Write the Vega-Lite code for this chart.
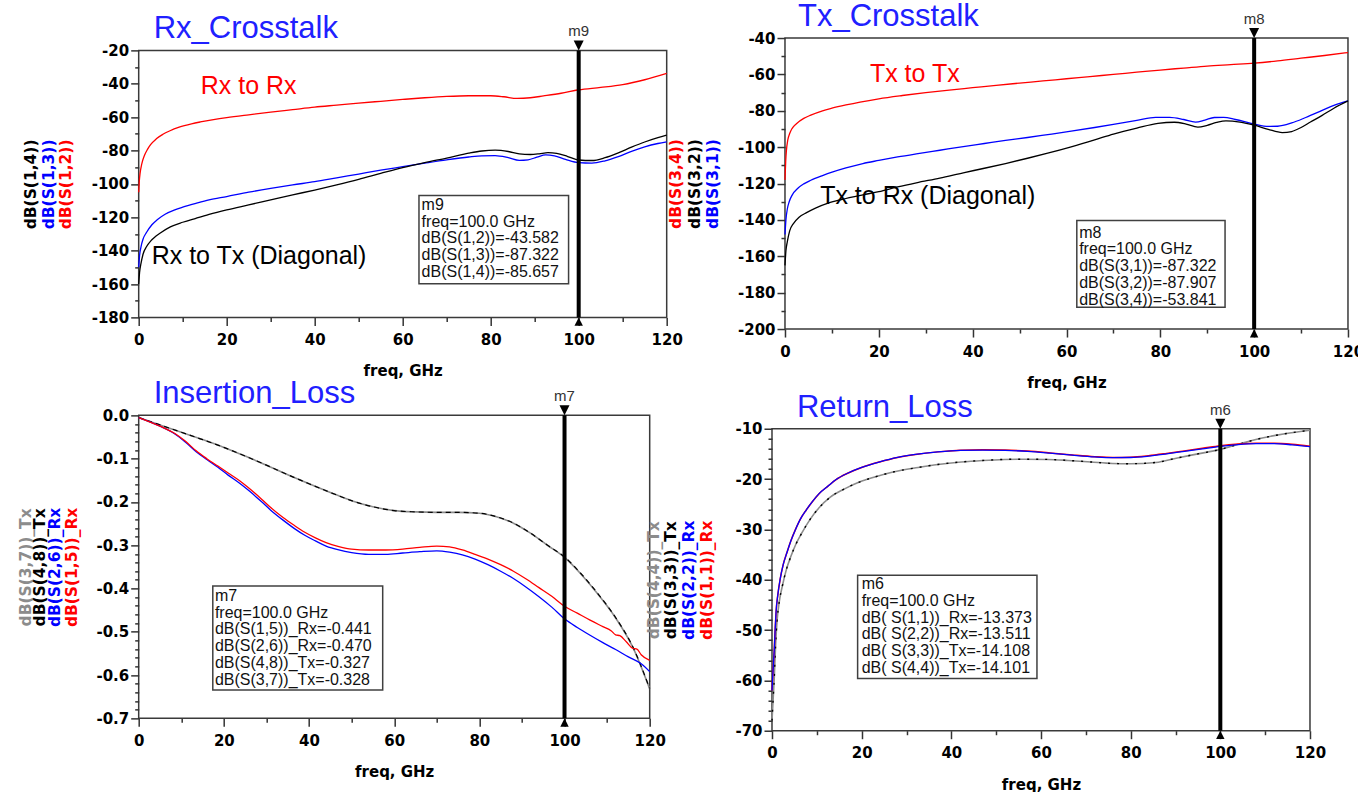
{
"$schema": "https://vega.github.io/schema/vega-lite/v6.json",
"padding": {"left": 16.7, "top": 0, "right": 0, "bottom": 0},
"config": {
 "view": {"stroke": "#3a3a3a", "strokeWidth": 1.5},
 "axis": {"grid": false, "domain": false, "labelFlush": false, "labelOverlap": false, "tickColor": "#333", "tickWidth": 1.5, "labelFont": "DejaVu Sans", "labelFontSize": 15, "labelFontWeight": "bold", "labelColor": "#000", "titleFont": "DejaVu Sans", "titleFontSize": 15.5, "titleFontWeight": "bold", "titleColor": "#000"},
 "axisY": {"titleAngle": 270, "titleAlign": "center", "titleBaseline": "middle", "labelPadding": 2, "tickSize": 8},
 "axisX": {"labelPadding": 7, "tickSize": 8, "titleBaseline": "middle"},
 "title": {"font": "Liberation Sans", "fontSize": 31, "fontWeight": "normal", "color": "#2020ff", "anchor": "start", "frame": "group", "baseline": "alphabetic", "offset": -21},
 "line": {"strokeWidth": 1.3, "interpolate": "monotone"},
 "text": {"font": "Liberation Sans"}
},
"datasets": {
 "p1": [
  {"s":"S12","f":0,"v":-105},{"s":"S12","f":0.15,"v":-98},{"s":"S12","f":0.3,"v":-94},{"s":"S12","f":0.7,"v":-88},{"s":"S12","f":1.3,"v":-83},{"s":"S12","f":2,"v":-79.3},{"s":"S12","f":2.7,"v":-76.5},{"s":"S12","f":4,"v":-73},{"s":"S12","f":5.5,"v":-70.3},{"s":"S12","f":7,"v":-68.3},{"s":"S12","f":9.2,"v":-66},{"s":"S12","f":12,"v":-64},{"s":"S12","f":14,"v":-62.9},{"s":"S12","f":17,"v":-61.5},{"s":"S12","f":20,"v":-60.3},{"s":"S12","f":25,"v":-58.6},{"s":"S12","f":30,"v":-57},{"s":"S12","f":35,"v":-55.5},{"s":"S12","f":40,"v":-54},{"s":"S12","f":45,"v":-52.8},{"s":"S12","f":50,"v":-51.6},{"s":"S12","f":55,"v":-50.5},{"s":"S12","f":60,"v":-49.4},{"s":"S12","f":65,"v":-48.4},{"s":"S12","f":70,"v":-47.6},{"s":"S12","f":75,"v":-47.2},{"s":"S12","f":80,"v":-47.2},{"s":"S12","f":83,"v":-47.8},{"s":"S12","f":86,"v":-48.8},{"s":"S12","f":89,"v":-48.4},{"s":"S12","f":92,"v":-47.3},{"s":"S12","f":96,"v":-45.7},{"s":"S12","f":100,"v":-43.6},{"s":"S12","f":105,"v":-42.2},{"s":"S12","f":110,"v":-40.5},{"s":"S12","f":115,"v":-37.6},{"s":"S12","f":120,"v":-33.8},
  {"s":"S13","f":0,"v":-150},{"s":"S13","f":0.2,"v":-143},{"s":"S13","f":0.5,"v":-138},{"s":"S13","f":1,"v":-133},{"s":"S13","f":1.8,"v":-129},{"s":"S13","f":3,"v":-124.5},{"s":"S13","f":4.2,"v":-121.5},{"s":"S13","f":6,"v":-118.2},{"s":"S13","f":8.2,"v":-115.6},{"s":"S13","f":10,"v":-114},{"s":"S13","f":13,"v":-111.7},{"s":"S13","f":16,"v":-109.6},{"s":"S13","f":20,"v":-107.6},{"s":"S13","f":25,"v":-105},{"s":"S13","f":30,"v":-102.7},{"s":"S13","f":35,"v":-100.6},{"s":"S13","f":40,"v":-98.7},{"s":"S13","f":45,"v":-96.4},{"s":"S13","f":50,"v":-94.1},{"s":"S13","f":55,"v":-91.8},{"s":"S13","f":60,"v":-89.7},{"s":"S13","f":65,"v":-87.6},{"s":"S13","f":70,"v":-85.6},{"s":"S13","f":75,"v":-83.9},{"s":"S13","f":78,"v":-83.2},{"s":"S13","f":81,"v":-83.1},{"s":"S13","f":84,"v":-84.3},{"s":"S13","f":86.5,"v":-85.9},{"s":"S13","f":88.5,"v":-85.6},{"s":"S13","f":90.5,"v":-84},{"s":"S13","f":92.5,"v":-82.6},{"s":"S13","f":94.5,"v":-83.2},{"s":"S13","f":97,"v":-85.3},{"s":"S13","f":100,"v":-87.3},{"s":"S13","f":103,"v":-87.6},{"s":"S13","f":106,"v":-86.2},{"s":"S13","f":109,"v":-83.7},{"s":"S13","f":112,"v":-80.5},{"s":"S13","f":115,"v":-77.8},{"s":"S13","f":118,"v":-75.8},{"s":"S13","f":120,"v":-74.8},
  {"s":"S14","f":0,"v":-160},{"s":"S14","f":0.2,"v":-153},{"s":"S14","f":0.5,"v":-148},{"s":"S14","f":1,"v":-142},{"s":"S14","f":1.8,"v":-137.5},{"s":"S14","f":2.8,"v":-134},{"s":"S14","f":3.8,"v":-131.6},{"s":"S14","f":5,"v":-129.3},{"s":"S14","f":7.2,"v":-125.8},{"s":"S14","f":10,"v":-123},{"s":"S14","f":13,"v":-120.6},{"s":"S14","f":16,"v":-118.3},{"s":"S14","f":20,"v":-115.6},{"s":"S14","f":25,"v":-112.6},{"s":"S14","f":30,"v":-109.6},{"s":"S14","f":35,"v":-106.6},{"s":"S14","f":40,"v":-103.7},{"s":"S14","f":45,"v":-100.6},{"s":"S14","f":50,"v":-97.3},{"s":"S14","f":55,"v":-93.7},{"s":"S14","f":60,"v":-90.2},{"s":"S14","f":65,"v":-87.2},{"s":"S14","f":70,"v":-84.5},{"s":"S14","f":75,"v":-81.6},{"s":"S14","f":78,"v":-80.3},{"s":"S14","f":81,"v":-79.8},{"s":"S14","f":84,"v":-80.6},{"s":"S14","f":86.5,"v":-82},{"s":"S14","f":89,"v":-82.4},{"s":"S14","f":91,"v":-82},{"s":"S14","f":93,"v":-81.3},{"s":"S14","f":95,"v":-81.7},{"s":"S14","f":97.5,"v":-83.6},{"s":"S14","f":100,"v":-85.7},{"s":"S14","f":103,"v":-86},{"s":"S14","f":106,"v":-84.3},{"s":"S14","f":109,"v":-81.4},{"s":"S14","f":112,"v":-78},{"s":"S14","f":115,"v":-74.9},{"s":"S14","f":118,"v":-72.3},{"s":"S14","f":120,"v":-70.8},
  {"s":"noteR","f":14.1,"v":-45.9,"t":"Rx to Rx"},
  {"s":"noteK","f":2.95,"v":-148.2,"t":"Rx to Tx (Diagonal)"},
  {"s":"marker","f":100,"t":"m9"},
  {"s":"box","f":63.7,"f2":97.7,"v":-106.9,"v2":-159.8},
  {"s":"readout","f":64.3,"v":-115.7,"t":"m9\nfreq=100.0 GHz\ndB(S(1,2))=-43.582\ndB(S(1,3))=-87.322\ndB(S(1,4))=-85.657"}
 ],
 "p2": [
  {"s":"S34","f":0,"v":-118},{"s":"S34","f":0.15,"v":-108},{"s":"S34","f":0.3,"v":-102},{"s":"S34","f":0.6,"v":-96},{"s":"S34","f":1,"v":-92.5},{"s":"S34","f":1.5,"v":-89.8},{"s":"S34","f":2.5,"v":-87},{"s":"S34","f":4,"v":-84.2},{"s":"S34","f":5.5,"v":-82.4},{"s":"S34","f":8,"v":-80},{"s":"S34","f":10,"v":-78.6},{"s":"S34","f":13,"v":-76.8},{"s":"S34","f":16,"v":-75.2},{"s":"S34","f":20,"v":-73.4},{"s":"S34","f":25,"v":-71.6},{"s":"S34","f":30,"v":-70},{"s":"S34","f":35,"v":-68.6},{"s":"S34","f":40,"v":-67.3},{"s":"S34","f":45,"v":-66},{"s":"S34","f":50,"v":-64.8},{"s":"S34","f":55,"v":-63.6},{"s":"S34","f":60,"v":-62.4},{"s":"S34","f":65,"v":-61.2},{"s":"S34","f":70,"v":-60},{"s":"S34","f":75,"v":-58.8},{"s":"S34","f":80,"v":-57.6},{"s":"S34","f":85,"v":-56.5},{"s":"S34","f":90,"v":-55.4},{"s":"S34","f":95,"v":-54.6},{"s":"S34","f":100,"v":-53.8},{"s":"S34","f":105,"v":-52.6},{"s":"S34","f":110,"v":-51.1},{"s":"S34","f":115,"v":-49.6},{"s":"S34","f":120,"v":-48},
  {"s":"S31","f":0,"v":-148},{"s":"S31","f":0.2,"v":-140},{"s":"S31","f":0.5,"v":-134},{"s":"S31","f":0.9,"v":-130},{"s":"S31","f":1.5,"v":-126.5},{"s":"S31","f":2.8,"v":-122.5},{"s":"S31","f":4,"v":-120.2},{"s":"S31","f":5.5,"v":-118.2},{"s":"S31","f":8,"v":-115.6},{"s":"S31","f":10.2,"v":-113.6},{"s":"S31","f":13,"v":-111.4},{"s":"S31","f":16.6,"v":-109},{"s":"S31","f":20,"v":-107.3},{"s":"S31","f":24,"v":-105.4},{"s":"S31","f":28,"v":-103.7},{"s":"S31","f":33,"v":-101.7},{"s":"S31","f":38,"v":-99.7},{"s":"S31","f":42.5,"v":-98},{"s":"S31","f":47,"v":-96.3},{"s":"S31","f":51.7,"v":-94.7},{"s":"S31","f":56,"v":-93.1},{"s":"S31","f":61,"v":-91.2},{"s":"S31","f":66,"v":-89.2},{"s":"S31","f":70,"v":-87.5},{"s":"S31","f":75,"v":-85.3},{"s":"S31","f":79,"v":-83.6},{"s":"S31","f":82,"v":-83.6},{"s":"S31","f":85,"v":-84.8},{"s":"S31","f":87.5,"v":-86.2},{"s":"S31","f":89.5,"v":-85.1},{"s":"S31","f":91.5,"v":-83.7},{"s":"S31","f":93.5,"v":-83.6},{"s":"S31","f":96,"v":-84.8},{"s":"S31","f":100,"v":-87.3},{"s":"S31","f":103,"v":-88.6},{"s":"S31","f":105,"v":-88.5},{"s":"S31","f":108,"v":-86.7},{"s":"S31","f":111,"v":-83.7},{"s":"S31","f":114.5,"v":-79.8},{"s":"S31","f":117,"v":-77},{"s":"S31","f":120,"v":-74.6},
  {"s":"S32","f":0,"v":-165},{"s":"S32","f":0.2,"v":-157},{"s":"S32","f":0.5,"v":-152},{"s":"S32","f":1,"v":-146},{"s":"S32","f":1.8,"v":-142},{"s":"S32","f":3,"v":-138.5},{"s":"S32","f":4.6,"v":-136},{"s":"S32","f":6.5,"v":-133.5},{"s":"S32","f":9.2,"v":-130.8},{"s":"S32","f":12,"v":-128.8},{"s":"S32","f":16.6,"v":-126.2},{"s":"S32","f":20,"v":-124.5},{"s":"S32","f":24,"v":-121.9},{"s":"S32","f":28,"v":-119.6},{"s":"S32","f":33,"v":-117},{"s":"S32","f":38,"v":-114.1},{"s":"S32","f":42.5,"v":-111.6},{"s":"S32","f":47,"v":-109},{"s":"S32","f":51.7,"v":-106.1},{"s":"S32","f":56,"v":-103.3},{"s":"S32","f":61,"v":-99.8},{"s":"S32","f":66,"v":-96},{"s":"S32","f":70,"v":-92.8},{"s":"S32","f":75,"v":-89.5},{"s":"S32","f":79.5,"v":-86.9},{"s":"S32","f":83,"v":-86.3},{"s":"S32","f":85.5,"v":-87.3},{"s":"S32","f":88,"v":-89},{"s":"S32","f":90,"v":-88},{"s":"S32","f":92,"v":-86.4},{"s":"S32","f":94,"v":-85.5},{"s":"S32","f":97,"v":-86.2},{"s":"S32","f":100,"v":-87.9},{"s":"S32","f":103,"v":-90.2},{"s":"S32","f":106,"v":-92},{"s":"S32","f":108,"v":-91.4},{"s":"S32","f":110,"v":-89.2},{"s":"S32","f":112,"v":-86.2},{"s":"S32","f":114.5,"v":-82.5},{"s":"S32","f":117,"v":-78.6},{"s":"S32","f":120,"v":-74.6},
  {"s":"noteR","f":18.1,"v":-64.3,"t":"Tx to Tx"},
  {"s":"noteK","f":7.5,"v":-131.5,"t":"Tx to Rx (Diagonal)"},
  {"s":"marker","f":100,"t":"m8"},
  {"s":"box","f":62.2,"f2":93.8,"v":-140.3,"v2":-188},
  {"s":"readout","f":62.7,"v":-149.8,"t":"m8\nfreq=100.0 GHz\ndB(S(3,1))=-87.322\ndB(S(3,2))=-87.907\ndB(S(3,4))=-53.841"}
 ],
 "p3": [
  {"s":"S15","f":0,"v":-0.005},{"s":"S15","f":5,"v":-0.025},{"s":"S15","f":8.5,"v":-0.042},{"s":"S15","f":11,"v":-0.06},{"s":"S15","f":13.5,"v":-0.082},{"s":"S15","f":16,"v":-0.1},{"s":"S15","f":18.6,"v":-0.117},{"s":"S15","f":21,"v":-0.133},{"s":"S15","f":23.7,"v":-0.151},{"s":"S15","f":26,"v":-0.169},{"s":"S15","f":28.8,"v":-0.193},{"s":"S15","f":31,"v":-0.213},{"s":"S15","f":33.9,"v":-0.236},{"s":"S15","f":36.5,"v":-0.254},{"s":"S15","f":39,"v":-0.27},{"s":"S15","f":41.5,"v":-0.283},{"s":"S15","f":44,"v":-0.294},{"s":"S15","f":47,"v":-0.303},{"s":"S15","f":50,"v":-0.309},{"s":"S15","f":54,"v":-0.311},{"s":"S15","f":58,"v":-0.311},{"s":"S15","f":62,"v":-0.309},{"s":"S15","f":66,"v":-0.305},{"s":"S15","f":70,"v":-0.302},{"s":"S15","f":73,"v":-0.304},{"s":"S15","f":76,"v":-0.311},{"s":"S15","f":79,"v":-0.321},{"s":"S15","f":82,"v":-0.332},{"s":"S15","f":85,"v":-0.345},{"s":"S15","f":88,"v":-0.36},{"s":"S15","f":91,"v":-0.378},{"s":"S15","f":94,"v":-0.398},{"s":"S15","f":97,"v":-0.418},{"s":"S15","f":100,"v":-0.441},{"s":"S15","f":103,"v":-0.457},{"s":"S15","f":106,"v":-0.473},{"s":"S15","f":109,"v":-0.488},{"s":"S15","f":111,"v":-0.498},{"s":"S15","f":112,"v":-0.507},{"s":"S15","f":113,"v":-0.509},{"s":"S15","f":114.5,"v":-0.523},{"s":"S15","f":116,"v":-0.538},{"s":"S15","f":117,"v":-0.54},{"s":"S15","f":118,"v":-0.553},{"s":"S15","f":120,"v":-0.566},
  {"s":"S26","f":0,"v":-0.005},{"s":"S26","f":5,"v":-0.025},{"s":"S26","f":8.5,"v":-0.043},{"s":"S26","f":11,"v":-0.062},{"s":"S26","f":13.5,"v":-0.084},{"s":"S26","f":16,"v":-0.102},{"s":"S26","f":18.6,"v":-0.12},{"s":"S26","f":21,"v":-0.138},{"s":"S26","f":23.7,"v":-0.157},{"s":"S26","f":26,"v":-0.175},{"s":"S26","f":28.8,"v":-0.199},{"s":"S26","f":31,"v":-0.219},{"s":"S26","f":33.9,"v":-0.242},{"s":"S26","f":36.5,"v":-0.261},{"s":"S26","f":39,"v":-0.277},{"s":"S26","f":41.5,"v":-0.29},{"s":"S26","f":44,"v":-0.302},{"s":"S26","f":47,"v":-0.311},{"s":"S26","f":50,"v":-0.317},{"s":"S26","f":54,"v":-0.321},{"s":"S26","f":58,"v":-0.321},{"s":"S26","f":62,"v":-0.318},{"s":"S26","f":66,"v":-0.315},{"s":"S26","f":70,"v":-0.313},{"s":"S26","f":73,"v":-0.316},{"s":"S26","f":76,"v":-0.322},{"s":"S26","f":79,"v":-0.332},{"s":"S26","f":82,"v":-0.345},{"s":"S26","f":85,"v":-0.36},{"s":"S26","f":88,"v":-0.377},{"s":"S26","f":91,"v":-0.397},{"s":"S26","f":94,"v":-0.419},{"s":"S26","f":97,"v":-0.443},{"s":"S26","f":100,"v":-0.47},{"s":"S26","f":103,"v":-0.49},{"s":"S26","f":106,"v":-0.508},{"s":"S26","f":109,"v":-0.525},{"s":"S26","f":112,"v":-0.541},{"s":"S26","f":115,"v":-0.558},{"s":"S26","f":118,"v":-0.574},{"s":"S26","f":120,"v":-0.592},
  {"s":"S37","f":0,"v":-0.005},{"s":"S37","f":5,"v":-0.022},{"s":"S37","f":10,"v":-0.039},{"s":"S37","f":15,"v":-0.056},{"s":"S37","f":20,"v":-0.074},{"s":"S37","f":25,"v":-0.094},{"s":"S37","f":30,"v":-0.115},{"s":"S37","f":35,"v":-0.137},{"s":"S37","f":40,"v":-0.158},{"s":"S37","f":45,"v":-0.178},{"s":"S37","f":50,"v":-0.197},{"s":"S37","f":55,"v":-0.211},{"s":"S37","f":60,"v":-0.22},{"s":"S37","f":65,"v":-0.223},{"s":"S37","f":70,"v":-0.224},{"s":"S37","f":75,"v":-0.224},{"s":"S37","f":80,"v":-0.226},{"s":"S37","f":84,"v":-0.234},{"s":"S37","f":88,"v":-0.249},{"s":"S37","f":92,"v":-0.272},{"s":"S37","f":96,"v":-0.3},{"s":"S37","f":100,"v":-0.328},{"s":"S37","f":104,"v":-0.368},{"s":"S37","f":108,"v":-0.415},{"s":"S37","f":112,"v":-0.468},{"s":"S37","f":116,"v":-0.535},{"s":"S37","f":120,"v":-0.632},
  {"s":"S48","f":0,"v":-0.005},{"s":"S48","f":5,"v":-0.022},{"s":"S48","f":10,"v":-0.039},{"s":"S48","f":15,"v":-0.056},{"s":"S48","f":20,"v":-0.074},{"s":"S48","f":25,"v":-0.094},{"s":"S48","f":30,"v":-0.115},{"s":"S48","f":35,"v":-0.137},{"s":"S48","f":40,"v":-0.158},{"s":"S48","f":45,"v":-0.178},{"s":"S48","f":50,"v":-0.197},{"s":"S48","f":55,"v":-0.211},{"s":"S48","f":60,"v":-0.22},{"s":"S48","f":65,"v":-0.223},{"s":"S48","f":70,"v":-0.224},{"s":"S48","f":75,"v":-0.224},{"s":"S48","f":80,"v":-0.226},{"s":"S48","f":84,"v":-0.234},{"s":"S48","f":88,"v":-0.249},{"s":"S48","f":92,"v":-0.272},{"s":"S48","f":96,"v":-0.3},{"s":"S48","f":100,"v":-0.327},{"s":"S48","f":104,"v":-0.367},{"s":"S48","f":108,"v":-0.414},{"s":"S48","f":112,"v":-0.467},{"s":"S48","f":116,"v":-0.534},{"s":"S48","f":120,"v":-0.631},
  {"s":"marker","f":100,"t":"m7"},
  {"s":"box","f":17.4,"f2":57.3,"v":-0.394,"v2":-0.6346},
  {"s":"readout","f":17.9,"v":-0.429,"t":"m7\nfreq=100.0 GHz\ndB(S(1,5))_Rx=-0.441\ndB(S(2,6))_Rx=-0.470\ndB(S(4,8))_Tx=-0.327\ndB(S(3,7))_Tx=-0.328"}
 ],
 "p4": [
  {"s":"S11","f":0,"v":-62},{"s":"S11","f":0.3,"v":-57},{"s":"S11","f":0.5,"v":-54},{"s":"S11","f":0.7,"v":-50},{"s":"S11","f":0.9,"v":-46.5},{"s":"S11","f":1.3,"v":-43},{"s":"S11","f":1.8,"v":-40},{"s":"S11","f":2.5,"v":-37},{"s":"S11","f":3.3,"v":-34.7},{"s":"S11","f":4.2,"v":-32.3},{"s":"S11","f":5.2,"v":-30.1},{"s":"S11","f":6.3,"v":-28},{"s":"S11","f":7.6,"v":-26.2},{"s":"S11","f":9,"v":-24.5},{"s":"S11","f":10.5,"v":-22.9},{"s":"S11","f":12.5,"v":-21.4},{"s":"S11","f":14.3,"v":-20.1},{"s":"S11","f":17,"v":-18.8},{"s":"S11","f":20,"v":-17.7},{"s":"S11","f":24,"v":-16.6},{"s":"S11","f":28,"v":-15.7},{"s":"S11","f":32,"v":-15.1},{"s":"S11","f":37,"v":-14.6},{"s":"S11","f":42,"v":-14.3},{"s":"S11","f":47,"v":-14.2},{"s":"S11","f":52,"v":-14.25},{"s":"S11","f":57,"v":-14.45},{"s":"S11","f":62,"v":-14.8},{"s":"S11","f":67,"v":-15.2},{"s":"S11","f":72,"v":-15.55},{"s":"S11","f":76,"v":-15.7},{"s":"S11","f":80,"v":-15.65},{"s":"S11","f":84,"v":-15.35},{"s":"S11","f":88,"v":-14.9},{"s":"S11","f":92,"v":-14.4},{"s":"S11","f":96,"v":-13.9},{"s":"S11","f":100,"v":-13.37},{"s":"S11","f":104,"v":-13.05},{"s":"S11","f":108,"v":-12.9},{"s":"S11","f":112,"v":-12.9},{"s":"S11","f":116,"v":-13.1},{"s":"S11","f":120,"v":-13.5},
  {"s":"S22","f":0,"v":-62},{"s":"S22","f":0.3,"v":-57},{"s":"S22","f":0.5,"v":-54},{"s":"S22","f":0.7,"v":-50},{"s":"S22","f":0.9,"v":-46.5},{"s":"S22","f":1.3,"v":-43},{"s":"S22","f":1.8,"v":-40},{"s":"S22","f":2.5,"v":-37},{"s":"S22","f":3.3,"v":-34.7},{"s":"S22","f":4.2,"v":-32.3},{"s":"S22","f":5.2,"v":-30.1},{"s":"S22","f":6.3,"v":-28},{"s":"S22","f":7.6,"v":-26.2},{"s":"S22","f":9,"v":-24.5},{"s":"S22","f":10.5,"v":-22.9},{"s":"S22","f":12.5,"v":-21.4},{"s":"S22","f":14.3,"v":-20.1},{"s":"S22","f":17,"v":-18.8},{"s":"S22","f":20,"v":-17.7},{"s":"S22","f":24,"v":-16.6},{"s":"S22","f":28,"v":-15.7},{"s":"S22","f":32,"v":-15.1},{"s":"S22","f":37,"v":-14.6},{"s":"S22","f":42,"v":-14.3},{"s":"S22","f":47,"v":-14.25},{"s":"S22","f":52,"v":-14.3},{"s":"S22","f":57,"v":-14.5},{"s":"S22","f":62,"v":-14.85},{"s":"S22","f":67,"v":-15.25},{"s":"S22","f":72,"v":-15.6},{"s":"S22","f":76,"v":-15.75},{"s":"S22","f":80,"v":-15.72},{"s":"S22","f":84,"v":-15.45},{"s":"S22","f":88,"v":-15},{"s":"S22","f":92,"v":-14.5},{"s":"S22","f":96,"v":-14},{"s":"S22","f":100,"v":-13.51},{"s":"S22","f":104,"v":-13.15},{"s":"S22","f":108,"v":-12.98},{"s":"S22","f":112,"v":-12.97},{"s":"S22","f":116,"v":-13.2},{"s":"S22","f":120,"v":-13.55},
  {"s":"S44","f":0,"v":-68},{"s":"S44","f":0.3,"v":-63},{"s":"S44","f":0.5,"v":-59.6},{"s":"S44","f":0.8,"v":-53},{"s":"S44","f":1.1,"v":-48.5},{"s":"S44","f":1.6,"v":-44.5},{"s":"S44","f":2.3,"v":-41.3},{"s":"S44","f":3.2,"v":-38},{"s":"S44","f":4.2,"v":-35.4},{"s":"S44","f":5.3,"v":-33},{"s":"S44","f":6.6,"v":-30.8},{"s":"S44","f":8.5,"v":-28},{"s":"S44","f":10.5,"v":-25.7},{"s":"S44","f":13,"v":-23.6},{"s":"S44","f":16.3,"v":-21.9},{"s":"S44","f":19.5,"v":-20.6},{"s":"S44","f":22.9,"v":-19.6},{"s":"S44","f":27,"v":-18.6},{"s":"S44","f":32.6,"v":-17.7},{"s":"S44","f":37,"v":-17.1},{"s":"S44","f":42.2,"v":-16.6},{"s":"S44","f":47,"v":-16.3},{"s":"S44","f":51.9,"v":-16.1},{"s":"S44","f":56,"v":-16.05},{"s":"S44","f":61.5,"v":-16.1},{"s":"S44","f":66,"v":-16.3},{"s":"S44","f":71.1,"v":-16.6},{"s":"S44","f":75.9,"v":-16.9},{"s":"S44","f":80,"v":-16.95},{"s":"S44","f":85.6,"v":-16.7},{"s":"S44","f":90.4,"v":-15.8},{"s":"S44","f":95,"v":-15},{"s":"S44","f":100,"v":-14.1},{"s":"S44","f":104.8,"v":-12.9},{"s":"S44","f":109.6,"v":-11.8},{"s":"S44","f":114.4,"v":-11},{"s":"S44","f":120,"v":-10.3},
  {"s":"S33","f":0,"v":-68},{"s":"S33","f":0.3,"v":-63},{"s":"S33","f":0.5,"v":-59.6},{"s":"S33","f":0.8,"v":-53},{"s":"S33","f":1.1,"v":-48.5},{"s":"S33","f":1.6,"v":-44.5},{"s":"S33","f":2.3,"v":-41.3},{"s":"S33","f":3.2,"v":-38},{"s":"S33","f":4.2,"v":-35.4},{"s":"S33","f":5.3,"v":-33},{"s":"S33","f":6.6,"v":-30.8},{"s":"S33","f":8.5,"v":-28},{"s":"S33","f":10.5,"v":-25.7},{"s":"S33","f":13,"v":-23.6},{"s":"S33","f":16.3,"v":-21.9},{"s":"S33","f":19.5,"v":-20.6},{"s":"S33","f":22.9,"v":-19.6},{"s":"S33","f":27,"v":-18.6},{"s":"S33","f":32.6,"v":-17.7},{"s":"S33","f":37,"v":-17.1},{"s":"S33","f":42.2,"v":-16.6},{"s":"S33","f":47,"v":-16.3},{"s":"S33","f":51.9,"v":-16.1},{"s":"S33","f":56,"v":-16.05},{"s":"S33","f":61.5,"v":-16.1},{"s":"S33","f":66,"v":-16.3},{"s":"S33","f":71.1,"v":-16.6},{"s":"S33","f":75.9,"v":-16.9},{"s":"S33","f":80,"v":-16.95},{"s":"S33","f":85.6,"v":-16.7},{"s":"S33","f":90.4,"v":-15.8},{"s":"S33","f":95,"v":-15},{"s":"S33","f":100,"v":-14.11},{"s":"S33","f":104.8,"v":-12.9},{"s":"S33","f":109.6,"v":-11.8},{"s":"S33","f":114.4,"v":-11},{"s":"S33","f":120,"v":-10.3},
  {"s":"marker","f":100,"t":"m6"},
  {"s":"box","f":19.1,"f2":59.1,"v":-39.1,"v2":-59.6},
  {"s":"readout","f":20,"v":-41.9,"t":"m6\nfreq=100.0 GHz\ndB( S(1,1))_Rx=-13.373\ndB( S(2,2))_Rx=-13.511\ndB( S(3,3))_Tx=-14.108\ndB( S(4,4))_Tx=-14.101"}
 ]
},
"spacing": -37.7,
"center": true,
"hconcat": [
 {"spacing": 98, "bounds": "flush", "vconcat": [
  {"width": 528, "height": 267,
   "title": {"text": "Rx_Crosstalk", "dx": 15},
   "data": {"name": "p1"},
   "resolve": {"axis": {"x": "independent", "y": "independent"}},
   "layer": [
    {"transform": [{"filter": "datum.s == 'S12'"}], "mark": {"type": "line", "color": "#ff0000"},
     "encoding": {
      "x": {"field": "f", "type": "quantitative", "scale": {"domain": [0,120], "nice": false, "zero": false}, "axis": {"orient": "bottom", "values": [0,20,40,60,80,100,120], "format": "d", "title": "freq, GHz", "titleY": 53.5, "titleFontSize": 15}},
      "y": {"field": "v", "type": "quantitative", "scale": {"domain": [-180,-20], "nice": false, "zero": false}, "axis": {"orient": "left", "values": [-20,-40,-60,-80,-100,-120,-140,-160,-180], "format": "d", "labelExpr": "replace(datum.label, '\u2212', '-')", "title": "dB(S(1,2))", "titleColor": "#ff0000", "titleX": -72.7, "titleY": 133.5}}}},
    {"transform": [{"filter": "datum.s == 'S13'"}], "mark": {"type": "line", "color": "#0000ff"},
     "encoding": {
      "x": {"field": "f", "type": "quantitative", "scale": {"domain": [0,120], "nice": false, "zero": false}, "axis": {"orient": "bottom", "values": [10,30,50,70,90,110], "tickSize": 4, "labels": false, "title": null}},
      "y": {"field": "v", "type": "quantitative", "scale": {"domain": [-180,-20], "nice": false, "zero": false}, "axis": {"orient": "left", "values": [-30,-50,-70,-90,-110,-130,-150,-170], "tickSize": 4, "labels": false, "title": "dB(S(1,3))", "titleColor": "#0000ff", "titleX": -90.2, "titleY": 133.5}}}},
    {"transform": [{"filter": "datum.s == 'S14'"}], "mark": {"type": "line", "color": "#000000"},
     "encoding": {
      "x": {"field": "f", "type": "quantitative", "scale": {"domain": [0,120], "nice": false, "zero": false}, "axis": null},
      "y": {"field": "v", "type": "quantitative", "scale": {"domain": [-180,-20], "nice": false, "zero": false}, "axis": {"orient": "left", "ticks": false, "labels": false, "title": "dB(S(1,4))", "titleColor": "#000000", "titleX": -108.5, "titleY": 133.5}}}},
    {"transform": [{"filter": "datum.s == 'marker'"}], "mark": {"type": "rule", "color": "#000", "strokeWidth": 4},
     "encoding": {"x": {"field": "f", "type": "quantitative", "scale": {"domain": [0,120], "nice": false, "zero": false}, "axis": null}}},
    {"transform": [{"filter": "datum.s == 'marker'"}], "mark": {"type": "point", "shape": "M -1 -2 L 1 -2 L 0 0 Z", "filled": true, "opacity": 1, "color": "#000", "size": 100},
     "encoding": {"x": {"field": "f", "type": "quantitative", "scale": {"domain": [0,120], "nice": false, "zero": false}, "axis": null}, "y": {"datum": -20, "type": "quantitative", "scale": {"domain": [-180,-20], "nice": false, "zero": false}, "axis": null}}},
    {"transform": [{"filter": "datum.s == 'marker'"}], "mark": {"type": "point", "shape": "M -1 2 L 1 2 L 0 0 Z", "filled": true, "opacity": 1, "color": "#000", "size": 70},
     "encoding": {"x": {"field": "f", "type": "quantitative", "scale": {"domain": [0,120], "nice": false, "zero": false}, "axis": null}, "y": {"datum": -180, "type": "quantitative", "scale": {"domain": [-180,-20], "nice": false, "zero": false}, "axis": null}}},
    {"transform": [{"filter": "datum.s == 'marker'"}], "mark": {"type": "text", "dy": -19, "baseline": "middle", "fontSize": 15, "color": "#333"},
     "encoding": {"x": {"field": "f", "type": "quantitative", "scale": {"domain": [0,120], "nice": false, "zero": false}, "axis": null}, "y": {"datum": -20, "type": "quantitative", "scale": {"domain": [-180,-20], "nice": false, "zero": false}, "axis": null}, "text": {"field": "t"}}},
    {"transform": [{"filter": "datum.s == 'box'"}], "mark": {"type": "rect", "fill": "#ffffff", "stroke": "#404040", "strokeWidth": 1.5},
     "encoding": {"x": {"field": "f", "type": "quantitative", "scale": {"domain": [0,120], "nice": false, "zero": false}, "axis": null}, "x2": {"field": "f2"}, "y": {"field": "v", "type": "quantitative", "scale": {"domain": [-180,-20], "nice": false, "zero": false}, "axis": null}, "y2": {"field": "v2"}}},
    {"transform": [{"filter": "datum.s == 'readout'"}], "mark": {"type": "text", "align": "left", "baseline": "alphabetic", "lineBreak": "\n", "lineHeight": 16.7, "fontSize": 16, "color": "#111"},
     "encoding": {"x": {"field": "f", "type": "quantitative", "scale": {"domain": [0,120], "nice": false, "zero": false}, "axis": null}, "y": {"field": "v", "type": "quantitative", "scale": {"domain": [-180,-20], "nice": false, "zero": false}, "axis": null}, "text": {"field": "t"}}},
    {"transform": [{"filter": "datum.s == 'noteR'"}], "mark": {"type": "text", "align": "left", "baseline": "alphabetic", "fontSize": 25, "color": "#ff0000"},
     "encoding": {"x": {"field": "f", "type": "quantitative", "scale": {"domain": [0,120], "nice": false, "zero": false}, "axis": null}, "y": {"field": "v", "type": "quantitative", "scale": {"domain": [-180,-20], "nice": false, "zero": false}, "axis": null}, "text": {"field": "t"}}},
    {"transform": [{"filter": "datum.s == 'noteK'"}], "mark": {"type": "text", "align": "left", "baseline": "alphabetic", "fontSize": 25, "color": "#000000"},
     "encoding": {"x": {"field": "f", "type": "quantitative", "scale": {"domain": [0,120], "nice": false, "zero": false}, "axis": null}, "y": {"field": "v", "type": "quantitative", "scale": {"domain": [-180,-20], "nice": false, "zero": false}, "axis": null}, "text": {"field": "t"}}}
   ]},
  {"width": 511, "height": 303,
   "title": {"text": "Insertion_Loss", "dx": 15},
   "data": {"name": "p3"},
   "resolve": {"axis": {"x": "independent", "y": "independent"}},
   "layer": [
    {"transform": [{"filter": "datum.s == 'S37'"}], "mark": {"type": "line", "color": "#8c8c8c", "strokeWidth": 1.6},
     "encoding": {
      "x": {"field": "f", "type": "quantitative", "scale": {"domain": [0,120], "nice": false, "zero": false}, "axis": {"orient": "bottom", "values": [0,20,40,60,80,100,120], "format": "d", "title": "freq, GHz", "titleY": 53.5, "titleFontSize": 15}},
      "y": {"field": "v", "type": "quantitative", "scale": {"domain": [-0.7,0], "nice": false, "zero": false}, "axis": {"orient": "left", "ticks": false, "labels": false, "title": "dB(S(3,7))_Tx", "titleColor": "#8c8c8c", "titleX": -113.3, "titleY": 151.5}}}},
    {"transform": [{"filter": "datum.s == 'S48'"}], "mark": {"type": "line", "color": "#000000", "strokeWidth": 1.2, "strokeDash": [5,4]},
     "encoding": {
      "x": {"field": "f", "type": "quantitative", "scale": {"domain": [0,120], "nice": false, "zero": false}, "axis": {"orient": "bottom", "values": [10,30,50,70,90,110], "tickSize": 4, "labels": false, "title": null}},
      "y": {"field": "v", "type": "quantitative", "scale": {"domain": [-0.7,0], "nice": false, "zero": false}, "axis": {"orient": "left", "values": [-0.02,-0.04,-0.06,-0.08,-0.12,-0.14,-0.16,-0.18,-0.22,-0.24,-0.26,-0.28,-0.32,-0.34,-0.36,-0.38,-0.42,-0.44,-0.46,-0.48,-0.52,-0.54,-0.56,-0.58,-0.62,-0.64,-0.66,-0.68], "tickSize": 4, "labels": false, "title": "dB(S(4,8))_Tx", "titleColor": "#000000", "titleX": -98.7, "titleY": 151.5}}}},
    {"transform": [{"filter": "datum.s == 'S26'"}], "mark": {"type": "line", "color": "#0000ff"},
     "encoding": {
      "x": {"field": "f", "type": "quantitative", "scale": {"domain": [0,120], "nice": false, "zero": false}, "axis": null},
      "y": {"field": "v", "type": "quantitative", "scale": {"domain": [-0.7,0], "nice": false, "zero": false}, "axis": {"orient": "left", "ticks": false, "labels": false, "title": "dB(S(2,6))_Rx", "titleColor": "#0000ff", "titleX": -83.7, "titleY": 151.5}}}},
    {"transform": [{"filter": "datum.s == 'S15'"}], "mark": {"type": "line", "color": "#ff0000"},
     "encoding": {
      "x": {"field": "f", "type": "quantitative", "scale": {"domain": [0,120], "nice": false, "zero": false}, "axis": null},
      "y": {"field": "v", "type": "quantitative", "scale": {"domain": [-0.7,0], "nice": false, "zero": false}, "axis": {"orient": "left", "values": [0,-0.1,-0.2,-0.3,-0.4,-0.5,-0.6,-0.7], "format": ".1f", "labelExpr": "replace(datum.label, '\u2212', '-')", "title": "dB(S(1,5))_Rx", "titleColor": "#ff0000", "titleX": -67.3, "titleY": 151.5}}}},
    {"transform": [{"filter": "datum.s == 'marker'"}], "mark": {"type": "rule", "color": "#000", "strokeWidth": 4},
     "encoding": {"x": {"field": "f", "type": "quantitative", "scale": {"domain": [0,120], "nice": false, "zero": false}, "axis": null}}},
    {"transform": [{"filter": "datum.s == 'marker'"}], "mark": {"type": "point", "shape": "M -1 -2 L 1 -2 L 0 0 Z", "filled": true, "opacity": 1, "color": "#000", "size": 100},
     "encoding": {"x": {"field": "f", "type": "quantitative", "scale": {"domain": [0,120], "nice": false, "zero": false}, "axis": null}, "y": {"datum": 0, "type": "quantitative", "scale": {"domain": [-0.7,0], "nice": false, "zero": false}, "axis": null}}},
    {"transform": [{"filter": "datum.s == 'marker'"}], "mark": {"type": "point", "shape": "M -1 2 L 1 2 L 0 0 Z", "filled": true, "opacity": 1, "color": "#000", "size": 70},
     "encoding": {"x": {"field": "f", "type": "quantitative", "scale": {"domain": [0,120], "nice": false, "zero": false}, "axis": null}, "y": {"datum": -0.7, "type": "quantitative", "scale": {"domain": [-0.7,0], "nice": false, "zero": false}, "axis": null}}},
    {"transform": [{"filter": "datum.s == 'marker'"}], "mark": {"type": "text", "dy": -19, "baseline": "middle", "fontSize": 15, "color": "#333"},
     "encoding": {"x": {"field": "f", "type": "quantitative", "scale": {"domain": [0,120], "nice": false, "zero": false}, "axis": null}, "y": {"datum": 0, "type": "quantitative", "scale": {"domain": [-0.7,0], "nice": false, "zero": false}, "axis": null}, "text": {"field": "t"}}},
    {"transform": [{"filter": "datum.s == 'box'"}], "mark": {"type": "rect", "fill": "#ffffff", "stroke": "#404040", "strokeWidth": 1.5},
     "encoding": {"x": {"field": "f", "type": "quantitative", "scale": {"domain": [0,120], "nice": false, "zero": false}, "axis": null}, "x2": {"field": "f2"}, "y": {"field": "v", "type": "quantitative", "scale": {"domain": [-0.7,0], "nice": false, "zero": false}, "axis": null}, "y2": {"field": "v2"}}},
    {"transform": [{"filter": "datum.s == 'readout'"}], "mark": {"type": "text", "align": "left", "baseline": "alphabetic", "lineBreak": "\n", "lineHeight": 16.7, "fontSize": 16, "color": "#111"},
     "encoding": {"x": {"field": "f", "type": "quantitative", "scale": {"domain": [0,120], "nice": false, "zero": false}, "axis": null}, "y": {"field": "v", "type": "quantitative", "scale": {"domain": [-0.7,0], "nice": false, "zero": false}, "axis": null}, "text": {"field": "t"}}}
   ]}
 ]},
 {"spacing": -1.3, "vconcat": [
  {"spacing": 11.99, "bounds": "flush", "hconcat": [
   {"width": 0.01, "height": 0.01, "data": {"values": []}, "mark": "rect", "view": {"stroke": null}},
   {"width": 563, "height": 291,
    "title": {"text": "Tx_Crosstalk", "dx": 13},
    "data": {"name": "p2"},
    "resolve": {"axis": {"x": "independent", "y": "independent"}},
    "layer": [
     {"transform": [{"filter": "datum.s == 'S34'"}], "mark": {"type": "line", "color": "#ff0000"},
      "encoding": {
       "x": {"field": "f", "type": "quantitative", "scale": {"domain": [0,120], "nice": false, "zero": false}, "axis": {"orient": "bottom", "values": [0,20,40,60,80,100,120], "format": "d", "title": "freq, GHz", "titleY": 53.5, "titleFontSize": 15}},
       "y": {"field": "v", "type": "quantitative", "scale": {"domain": [-200,-40], "nice": false, "zero": false}, "axis": {"orient": "left", "ticks": false, "labels": false, "title": "dB(S(3,4))", "titleColor": "#ff0000", "titleX": -109, "titleY": 145.5}}}},
     {"transform": [{"filter": "datum.s == 'S31'"}], "mark": {"type": "line", "color": "#0000ff"},
      "encoding": {
       "x": {"field": "f", "type": "quantitative", "scale": {"domain": [0,120], "nice": false, "zero": false}, "axis": {"orient": "bottom", "values": [10,30,50,70,90,110], "tickSize": 4, "labels": false, "title": null}},
       "y": {"field": "v", "type": "quantitative", "scale": {"domain": [-200,-40], "nice": false, "zero": false}, "axis": {"orient": "left", "values": [-40,-60,-80,-100,-120,-140,-160,-180,-200], "format": "d", "labelExpr": "replace(datum.label, '\u2212', '-')", "title": "dB(S(3,1))", "titleColor": "#0000ff", "titleX": -72.3, "titleY": 145.5}}}},
     {"transform": [{"filter": "datum.s == 'S32'"}], "mark": {"type": "line", "color": "#000000"},
      "encoding": {
       "x": {"field": "f", "type": "quantitative", "scale": {"domain": [0,120], "nice": false, "zero": false}, "axis": null},
       "y": {"field": "v", "type": "quantitative", "scale": {"domain": [-200,-40], "nice": false, "zero": false}, "axis": {"orient": "left", "values": [-50,-70,-90,-110,-130,-150,-170,-190], "tickSize": 4, "labels": false, "title": "dB(S(3,2))", "titleColor": "#000000", "titleX": -90.7, "titleY": 145.5}}}},
     {"transform": [{"filter": "datum.s == 'marker'"}], "mark": {"type": "rule", "color": "#000", "strokeWidth": 4},
      "encoding": {"x": {"field": "f", "type": "quantitative", "scale": {"domain": [0,120], "nice": false, "zero": false}, "axis": null}}},
     {"transform": [{"filter": "datum.s == 'marker'"}], "mark": {"type": "point", "shape": "M -1 -2 L 1 -2 L 0 0 Z", "filled": true, "opacity": 1, "color": "#000", "size": 100},
      "encoding": {"x": {"field": "f", "type": "quantitative", "scale": {"domain": [0,120], "nice": false, "zero": false}, "axis": null}, "y": {"datum": -40, "type": "quantitative", "scale": {"domain": [-200,-40], "nice": false, "zero": false}, "axis": null}}},
     {"transform": [{"filter": "datum.s == 'marker'"}], "mark": {"type": "point", "shape": "M -1 2 L 1 2 L 0 0 Z", "filled": true, "opacity": 1, "color": "#000", "size": 70},
      "encoding": {"x": {"field": "f", "type": "quantitative", "scale": {"domain": [0,120], "nice": false, "zero": false}, "axis": null}, "y": {"datum": -200, "type": "quantitative", "scale": {"domain": [-200,-40], "nice": false, "zero": false}, "axis": null}}},
     {"transform": [{"filter": "datum.s == 'marker'"}], "mark": {"type": "text", "dy": -19, "baseline": "middle", "fontSize": 15, "color": "#333"},
      "encoding": {"x": {"field": "f", "type": "quantitative", "scale": {"domain": [0,120], "nice": false, "zero": false}, "axis": null}, "y": {"datum": -40, "type": "quantitative", "scale": {"domain": [-200,-40], "nice": false, "zero": false}, "axis": null}, "text": {"field": "t"}}},
     {"transform": [{"filter": "datum.s == 'box'"}], "mark": {"type": "rect", "fill": "#ffffff", "stroke": "#404040", "strokeWidth": 1.5},
      "encoding": {"x": {"field": "f", "type": "quantitative", "scale": {"domain": [0,120], "nice": false, "zero": false}, "axis": null}, "x2": {"field": "f2"}, "y": {"field": "v", "type": "quantitative", "scale": {"domain": [-200,-40], "nice": false, "zero": false}, "axis": null}, "y2": {"field": "v2"}}},
     {"transform": [{"filter": "datum.s == 'readout'"}], "mark": {"type": "text", "align": "left", "baseline": "alphabetic", "lineBreak": "\n", "lineHeight": 16.7, "fontSize": 16, "color": "#111"},
      "encoding": {"x": {"field": "f", "type": "quantitative", "scale": {"domain": [0,120], "nice": false, "zero": false}, "axis": null}, "y": {"field": "v", "type": "quantitative", "scale": {"domain": [-200,-40], "nice": false, "zero": false}, "axis": null}, "text": {"field": "t"}}},
     {"transform": [{"filter": "datum.s == 'noteR'"}], "mark": {"type": "text", "align": "left", "baseline": "alphabetic", "fontSize": 25, "color": "#ff0000"},
      "encoding": {"x": {"field": "f", "type": "quantitative", "scale": {"domain": [0,120], "nice": false, "zero": false}, "axis": null}, "y": {"field": "v", "type": "quantitative", "scale": {"domain": [-200,-40], "nice": false, "zero": false}, "axis": null}, "text": {"field": "t"}}},
     {"transform": [{"filter": "datum.s == 'noteK'"}], "mark": {"type": "text", "align": "left", "baseline": "alphabetic", "fontSize": 25, "color": "#000000"},
      "encoding": {"x": {"field": "f", "type": "quantitative", "scale": {"domain": [0,120], "nice": false, "zero": false}, "axis": null}, "y": {"field": "v", "type": "quantitative", "scale": {"domain": [-200,-40], "nice": false, "zero": false}, "axis": null}, "text": {"field": "t"}}}
    ]}
  ]},
  {"width": 538, "height": 302,
   "title": {"text": "Return_Loss", "dx": 25},
   "data": {"name": "p4"},
   "resolve": {"axis": {"x": "independent", "y": "independent"}},
   "layer": [
    {"transform": [{"filter": "datum.s == 'S44'"}], "mark": {"type": "line", "color": "#8c8c8c", "strokeWidth": 1.6},
     "encoding": {
      "x": {"field": "f", "type": "quantitative", "scale": {"domain": [0,120], "nice": false, "zero": false}, "axis": {"orient": "bottom", "values": [0,20,40,60,80,100,120], "format": "d", "title": "freq, GHz", "titleY": 53.5, "titleFontSize": 15}},
      "y": {"field": "v", "type": "quantitative", "scale": {"domain": [-70,-10], "nice": false, "zero": false}, "axis": {"orient": "left", "ticks": false, "labels": false, "title": "dB(S(4,4))_Tx", "titleColor": "#8c8c8c", "titleX": -118, "titleY": 151}}}},
    {"transform": [{"filter": "datum.s == 'S33'"}], "mark": {"type": "line", "color": "#000000", "strokeWidth": 1.4, "strokeDash": [2,7]},
     "encoding": {
      "x": {"field": "f", "type": "quantitative", "scale": {"domain": [0,120], "nice": false, "zero": false}, "axis": {"orient": "bottom", "values": [10,30,50,70,90,110], "tickSize": 4, "labels": false, "title": null}},
      "y": {"field": "v", "type": "quantitative", "scale": {"domain": [-70,-10], "nice": false, "zero": false}, "axis": {"orient": "left", "values": [-12,-14,-16,-18,-22,-24,-26,-28,-32,-34,-36,-38,-42,-44,-46,-48,-52,-54,-56,-58,-62,-64,-66,-68], "tickSize": 4, "labels": false, "title": "dB(S(3,3))_Tx", "titleColor": "#000000", "titleX": -101.7, "titleY": 151}}}},
    {"transform": [{"filter": "datum.s == 'S11'"}], "mark": {"type": "line", "color": "#ff0000", "strokeWidth": 1.5},
     "encoding": {
      "x": {"field": "f", "type": "quantitative", "scale": {"domain": [0,120], "nice": false, "zero": false}, "axis": null},
      "y": {"field": "v", "type": "quantitative", "scale": {"domain": [-70,-10], "nice": false, "zero": false}, "axis": {"orient": "left", "values": [-10,-20,-30,-40,-50,-60,-70], "format": "d", "labelExpr": "replace(datum.label, '\u2212', '-')", "title": "dB(S(1,1))_Rx", "titleColor": "#ff0000", "titleX": -65, "titleY": 151}}}},
    {"transform": [{"filter": "datum.s == 'S22'"}], "mark": {"type": "line", "color": "#0000ff", "strokeWidth": 1.3},
     "encoding": {
      "x": {"field": "f", "type": "quantitative", "scale": {"domain": [0,120], "nice": false, "zero": false}, "axis": null},
      "y": {"field": "v", "type": "quantitative", "scale": {"domain": [-70,-10], "nice": false, "zero": false}, "axis": {"orient": "left", "ticks": false, "labels": false, "title": "dB(S(2,2))_Rx", "titleColor": "#0000ff", "titleX": -83.4, "titleY": 151}}}},
    {"transform": [{"filter": "datum.s == 'marker'"}], "mark": {"type": "rule", "color": "#000", "strokeWidth": 4},
     "encoding": {"x": {"field": "f", "type": "quantitative", "scale": {"domain": [0,120], "nice": false, "zero": false}, "axis": null}}},
    {"transform": [{"filter": "datum.s == 'marker'"}], "mark": {"type": "point", "shape": "M -1 -2 L 1 -2 L 0 0 Z", "filled": true, "opacity": 1, "color": "#000", "size": 100},
     "encoding": {"x": {"field": "f", "type": "quantitative", "scale": {"domain": [0,120], "nice": false, "zero": false}, "axis": null}, "y": {"datum": -10, "type": "quantitative", "scale": {"domain": [-70,-10], "nice": false, "zero": false}, "axis": null}}},
    {"transform": [{"filter": "datum.s == 'marker'"}], "mark": {"type": "point", "shape": "M -1 2 L 1 2 L 0 0 Z", "filled": true, "opacity": 1, "color": "#000", "size": 70},
     "encoding": {"x": {"field": "f", "type": "quantitative", "scale": {"domain": [0,120], "nice": false, "zero": false}, "axis": null}, "y": {"datum": -70, "type": "quantitative", "scale": {"domain": [-70,-10], "nice": false, "zero": false}, "axis": null}}},
    {"transform": [{"filter": "datum.s == 'marker'"}], "mark": {"type": "text", "dy": -19, "baseline": "middle", "fontSize": 15, "color": "#333"},
     "encoding": {"x": {"field": "f", "type": "quantitative", "scale": {"domain": [0,120], "nice": false, "zero": false}, "axis": null}, "y": {"datum": -10, "type": "quantitative", "scale": {"domain": [-70,-10], "nice": false, "zero": false}, "axis": null}, "text": {"field": "t"}}},
    {"transform": [{"filter": "datum.s == 'box'"}], "mark": {"type": "rect", "fill": "#ffffff", "stroke": "#404040", "strokeWidth": 1.5},
     "encoding": {"x": {"field": "f", "type": "quantitative", "scale": {"domain": [0,120], "nice": false, "zero": false}, "axis": null}, "x2": {"field": "f2"}, "y": {"field": "v", "type": "quantitative", "scale": {"domain": [-70,-10], "nice": false, "zero": false}, "axis": null}, "y2": {"field": "v2"}}},
    {"transform": [{"filter": "datum.s == 'readout'"}], "mark": {"type": "text", "align": "left", "baseline": "alphabetic", "lineBreak": "\n", "lineHeight": 16.7, "fontSize": 16, "color": "#111"},
     "encoding": {"x": {"field": "f", "type": "quantitative", "scale": {"domain": [0,120], "nice": false, "zero": false}, "axis": null}, "y": {"field": "v", "type": "quantitative", "scale": {"domain": [-70,-10], "nice": false, "zero": false}, "axis": null}, "text": {"field": "t"}}}
   ]}
 ]}
]
}
